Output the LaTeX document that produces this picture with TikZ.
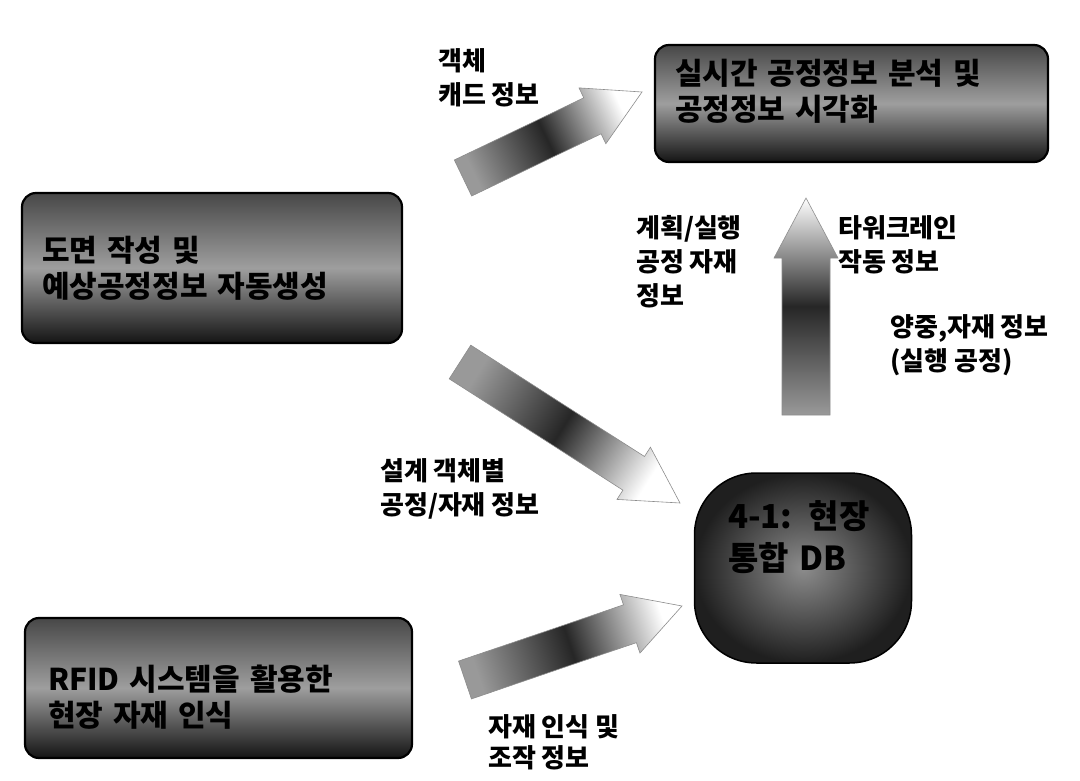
\documentclass[tikz,border=0pt]{standalone}
\usepackage{fontspec}
\newfontfamily\kr{Noto Sans CJK KR}
\usetikzlibrary{calc,shapes.geometric}
\tikzset{
  box/.style={draw=black, line width=2.2pt, rounded corners=14pt,
    top color=black!72, bottom color=black!92, middle color=black!38,
    font=\kr\bfseries\fontsize{30}{36}\selectfont, align=left, inner sep=0pt, text=black},
  dbshape/.style={rectangle, rounded corners=62pt, draw=black, line width=1.5pt,
    inner color=black!45, outer color=black!88,
    font=\kr\bfseries\fontsize{33}{42}\selectfont, align=left, inner sep=0pt},
  lbl/.style={font=\kr\bfseries\fontsize{26}{34}\selectfont, align=left, anchor=west, inner sep=0pt},
  fat/.style={draw=black!45, line width=0.6pt, top color=white, bottom color=black!40,
    middle color=black!85, shading angle=#1}
}
\newcommand\fatarrow[6]{%
  \coordinate (fah) at ($(#2)!#5!(#1)$);
  \path[fat=#6] ($(#1)!#3!90:(#2)$) -- ($(fah)!#3!90:(#2)$) -- ($(fah)!#4!90:(#2)$) -- (#2)
    -- ($(fah)!#4!-90:(#2)$) -- ($(fah)!#3!-90:(#2)$) -- ($(#1)!#3!-90:(#2)$) -- cycle;}
\begin{document}
\begin{tikzpicture}[x=1pt,y=-1pt]
\useasboundingbox (0,0) rectangle (1080,781);
% boxes
\node[box, minimum width=393pt, minimum height=117pt, text width=353pt] (rt) at (851.5,103.5)
  {실시간 공정정보 분석 및\\공정정보 시각화\rule[-27pt]{0pt}{0pt}};
\node[box, minimum width=380pt, minimum height=150pt, text width=340pt] (lm) at (212,268)
  {도면 작성 및\\예상공정정보 자동생성};
\node[box, minimum width=387pt, minimum height=140pt, text width=341pt] (lb) at (218.5,688)
  {\rule{0pt}{44pt}RFID 시스템을 활용한\\현장 자재 인식};
\node[dbshape, minimum width=217pt, minimum height=190pt, text width=150pt] (db) at (803,568)
  {4-1: 현장\\통합 DB\rule[-64pt]{0pt}{0pt}};
% fat arrows
\coordinate (a1s) at (463,178); \coordinate (a1e) at (642,92);
\coordinate (a2s) at (460,362); \coordinate (a2e) at (680,503);
\coordinate (a3s) at (806,415); \coordinate (a3e) at (806,198);
\coordinate (a4s) at (465,680); \coordinate (a4e) at (682,606);
\fatarrow{a1s}{a1e}{20pt}{31pt}{55pt}{-64.4}
\fatarrow{a2s}{a2e}{20pt}{31pt}{55pt}{-122.1}
\fatarrow{a3s}{a3e}{24pt}{32pt}{60pt}{0}
\fatarrow{a4s}{a4e}{20pt}{31pt}{55pt}{-71.5}
% labels
\node[lbl] (l1) at (438,78) {객체\\캐드 정보};
\node[lbl] (l2) at (636,262) {계획/실행\\공정 자재\\정보};
\node[lbl] (l3) at (838,245) {타워크레인\\작동 정보};
\node[lbl] (l4) at (890,345) {양중,자재 정보\\(실행 공정)};
\node[lbl] (l5) at (380,489) {설계 객체별\\공정/자재 정보};
\node[lbl, font=\kr\bfseries\fontsize{26}{31}\selectfont] (l6) at (488,742) {자재 인식 및\\조작 정보};
\end{tikzpicture}
\end{document}
